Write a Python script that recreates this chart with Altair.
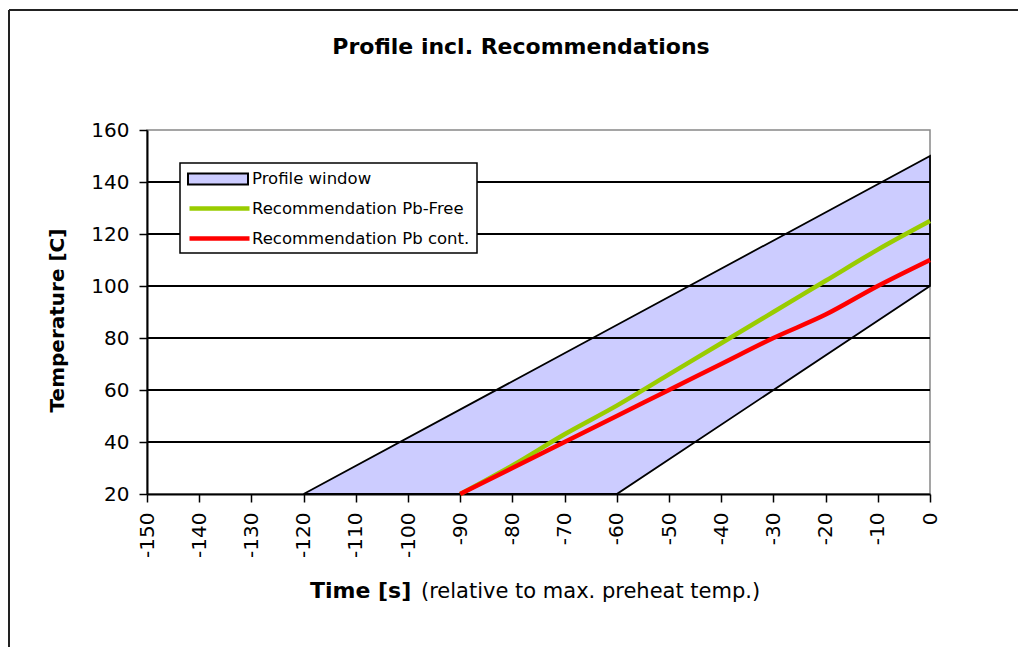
import altair as alt
import pandas as pd

# ---------------- data ----------------
window_time = [-120, -60, 0]
window_upper = [20, 85, 150]
window_lower = [20, 20, 100]

rec_time = [-90, -80, -70, -60, -50, -40, -30, -20, -10, 0]
pb_free = [20, 31, 43, 54, 66, 78, 90, 102, 114, 125]
pb_cont = [20, 30, 40, 50, 60, 70, 80, 89, 100, 110]

grid_temps = [40, 60, 80, 100, 120, 140]
x_ticks = list(range(-150, 1, 10))
y_ticks = list(range(20, 161, 20))

series_names = ["Profile window", "Recommendation Pb-Free", "Recommendation Pb cont."]
series_colors = ["#ccccff", "#99cc00", "#ff0000"]

title_text = "Profile incl. Recommendations"
x_title_bold = "Time [s]"
x_title_rest = "(relative to max. preheat temp.)"
y_title = "Temperature [C]"

FONT = "DejaVu Sans"

# ---------------- scales / axes ----------------
xscale = alt.Scale(domain=[-150, 0], nice=False, zero=False)
yscale = alt.Scale(domain=[20, 160], nice=False, zero=False)

x_axis = alt.Axis(values=x_ticks, labelExpr="'' + datum.value", labelAngle=270,
                  labelAlign="right", labelBaseline="middle", labelPadding=10,
                  tickSize=8, tickWidth=1.5,
                  labelFontSize=20, labelFont=FONT, labelColor="black", tickColor="black",
                  domainColor="black", domainWidth=2, grid=False, title=None,
                  labelOverlap=False, labelFlush=False, labelBound=False)
y_axis = alt.Axis(values=y_ticks, labelExpr="'' + datum.value", labelPadding=10,
                  tickSize=8, tickWidth=1.5,
                  labelFontSize=20, labelFont=FONT, labelColor="black", tickColor="black",
                  domainColor="black", domainWidth=2, grid=False,
                  title=y_title, titleFont=FONT, titleFontSize=20, titleFontWeight="bold",
                  titleColor="black", titleAngle=270, titleX=-84, titleY=190,
                  titleAlign="center", titleBaseline="alphabetic",
                  labelOverlap=False, labelFlush=False, labelBound=False)

legend_common = dict(title=None, orient="none", symbolSize=400, symbolOpacity=1,
                     labelFont=FONT, labelFontSize=16.5, labelColor="black",
                     labelLimit=0, padding=0, rowPadding=8)

# ---------------- layers ----------------
win_df = pd.DataFrame({"time": window_time, "upper": window_upper,
                       "lower": window_lower, "series": series_names[0]})
area = alt.Chart(win_df).mark_area(stroke="black", strokeWidth=1.8, opacity=1).encode(
    x=alt.X("time:Q", scale=xscale, axis=x_axis),
    y=alt.Y("upper:Q", scale=yscale, axis=y_axis),
    y2="lower:Q",
    fill=alt.Fill("series:N",
                  scale=alt.Scale(domain=series_names[:1], range=series_colors[:1]),
                  legend=alt.Legend(legendX=60, legendY=38,
                                    symbolType="M-3,-0.55H3V0.55H-3Z",
                                    symbolStrokeColor="black", symbolStrokeWidth=2,
                                    labelOffset=23, **legend_common)),
)

grid = alt.Chart(pd.DataFrame({"temp": grid_temps})).mark_rule(
    color="black", strokeWidth=2).encode(
    y=alt.Y("temp:Q", scale=yscale, axis=y_axis))

rec_df = pd.DataFrame({
    "time": rec_time + rec_time,
    "temp": pb_free + pb_cont,
    "series": [series_names[1]] * len(rec_time) + [series_names[2]] * len(rec_time),
})
lines = alt.Chart(rec_df).mark_line(strokeWidth=4.5, interpolate="monotone").encode(
    x=alt.X("time:Q", scale=xscale, axis=x_axis),
    y=alt.Y("temp:Q", scale=yscale, axis=y_axis),
    stroke=alt.Stroke("series:N",
                      scale=alt.Scale(domain=series_names[1:], range=series_colors[1:]),
                      legend=alt.Legend(legendX=60, legendY=66,
                                        symbolType="M-3,0L3,0", symbolStrokeWidth=4.5,
                                        labelOffset=20, **legend_common)),
)

legend_box = alt.Chart(pd.DataFrame({"a": [0]})).mark_rect(
    fill="white", stroke="black", strokeWidth=1.5).encode(
    x=alt.value(33), x2=alt.value(330), y=alt.value(33), y2=alt.value(123))

title = alt.Chart(pd.DataFrame({"t": [title_text]})).mark_text(
    font=FONT, fontSize=22, fontWeight="bold", color="black",
    align="center", baseline="alphabetic").encode(
    text="t:N", x=alt.value(374), y=alt.value(-76))

xt_bold = alt.Chart(pd.DataFrame({"t": [x_title_bold]})).mark_text(
    font=FONT, fontSize=22, fontWeight="bold", color="black",
    align="left", baseline="alphabetic").encode(
    text="t:N", x=alt.value(163), y=alt.value(468))

xt_rest = alt.Chart(pd.DataFrame({"t": [x_title_rest]})).mark_text(
    font=FONT, fontSize=21, color="black",
    align="left", baseline="alphabetic").encode(
    text="t:N", x=alt.value(274), y=alt.value(468))

frame_top = alt.Chart(pd.DataFrame({"a": [0]})).mark_rule(
    color="#222222", strokeWidth=2).encode(
    x=alt.value(-138), x2=alt.value(880), y=alt.value(-120))
frame_left = alt.Chart(pd.DataFrame({"a": [0]})).mark_rule(
    color="#222222", strokeWidth=2).encode(
    x=alt.value(-138), y=alt.value(-120), y2=alt.value(530))

chart = alt.layer(area, grid, lines, legend_box, title, xt_bold, xt_rest,
                  frame_top, frame_left).properties(
    width=783, height=364,
    autosize=alt.AutoSizeParams(type="none"),
    padding={"left": 139, "top": 122, "right": 88, "bottom": 153},
    background="white",
).configure_view(stroke="#888888", strokeWidth=1.5)

chart.save("out.html", embed_options={"renderer": "svg", "actions": False})
